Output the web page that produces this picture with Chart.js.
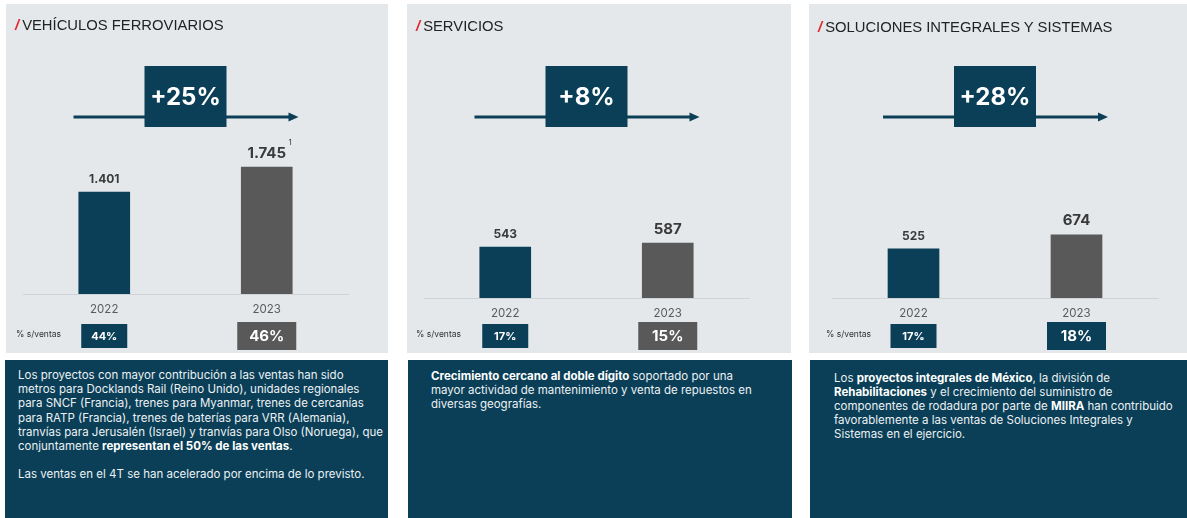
<!DOCTYPE html>
<html lang="es">
<head>
<meta charset="utf-8">
<title>Ventas por actividad 2022-2023</title>
<script src="https://cdn.jsdelivr.net/npm/chart.js@4.4.1/dist/chart.umd.min.js"></script>
<style>
  html, body { margin: 0; padding: 0; background: #fff; }
  body { width: 1187px; height: 518px; position: relative; overflow: hidden; font-family: Inter, "Noto Sans", sans-serif; }
  .panel { position: absolute; top: 4px; height: 349px; background: #e4e8eb; }
  .panel canvas { position: absolute; left: 0; top: 0; }
  .title { position: absolute; left: 9px; top: 13px; font-family: "Liberation Sans", Arial, sans-serif; font-size: 14.8px; line-height: 16px; color: #222; white-space: nowrap; }
  .title .slash { color: #e2262c; font-weight: bold; font-style: italic; margin-right: 3px; }
  .note { position: absolute; top: 360px; height: 158px; background: #0a3f57; color: #edf1f4; font-size: 11.5px; line-height: 14.2px; box-sizing: border-box; white-space: nowrap; }
  .note b { font-weight: 700; color: #fff; }
</style>
</head>
<body>

<div class="panel" id="p0" style="left:6px;width:382px"><canvas id="c0" width="382" height="349"></canvas><div class="title"><span class="slash">/</span>VEHÍCULOS FERROVIARIOS</div></div>
<div class="panel" id="p1" style="left:407px;width:384px"><canvas id="c1" width="384" height="349"></canvas><div class="title" style="top:14px"><span class="slash">/</span>SERVICIOS</div></div>
<div class="panel" id="p2" style="left:809px;width:378px"><canvas id="c2" width="378" height="349"></canvas><div class="title" style="top:15px"><span class="slash">/</span>SOLUCIONES INTEGRALES Y SISTEMAS</div></div>

<div class="note" style="left:5px;width:383px;padding:8px 0 0 13px">Los proyectos con mayor contribución a las ventas han sido<br>metros para Docklands Rail (Reino Unido), unidades regionales<br>para SNCF (Francia), trenes para Myanmar, trenes de cercanías<br>para RATP (Francia), trenes de baterías para VRR (Alemania),<br>tranvías para Jerusalén (Israel) y tranvías para Olso (Noruega), que<br>conjuntamente <b>representan el 50% de las ventas</b>.<br><br>Las ventas en el 4T se han acelerado por encima de lo previsto.</div>
<div class="note" style="left:408px;width:384px;padding:8.5px 0 0 23px"><b>Crecimiento cercano al doble dígito</b> soportado por una<br>mayor actividad de mantenimiento y venta de repuestos en<br>diversas geografías.</div>
<div class="note" style="left:810px;width:377px;padding:10.5px 0 0 24px">Los <b>proyectos integrales de México</b>, la división de<br><b>Rehabilitaciones</b> y el crecimiento del suministro de<br>componentes de rodadura por parte de <b>MIIRA</b> han contribuido<br>favorablemente a las ventas de Soluciones Integrales y<br>Sistemas en el ejercicio.</div>

<script>
// ----------------------------
// DATA
// ----------------------------
const years = ["2022", "2023"];
const ventas = [[1401, 1745], [543, 587], [525, 674]];
const valueLabels = [["1.401", "1.745"], ["543", "587"], ["525", "674"]];
const footnotes = [["", "1"], ["", ""], ["", ""]];
const growth = ["+25%", "+8%", "+28%"];
const pctVentas = [["44%", "46%"], ["17%", "15%"], ["17%", "18%"]];

// ----------------------------
// STYLE / LAYOUT
// ----------------------------
const TEAL = "#0a3f57";
const GREY = "#595959";
const barColors = [TEAL, GREY];
const pctBoxColors = [[TEAL, GREY], [TEAL, GREY], [TEAL, TEAL]];
const yMax = [3985, 3140, 3140];
const axisHeight = [59, 55, 55];
const areaPad = [[17, 40], [17, 42], [23, 29]];
const pctLabelX = [10, 9, 17];

// draws the growth arrow, value labels and % s/ventas boxes
const overlay = {
    id: "overlay",
    afterDatasetsDraw(chart, args, opts) {
        const i = opts.panel;
        const { ctx, chartArea: a } = chart;
        const meta = chart.getDatasetMeta(0);
        const cx = (a.left + a.right) / 2;

        ctx.save();
        ctx.textAlign = "center";
        ctx.textBaseline = "middle";

        // arrow + growth box
        ctx.strokeStyle = TEAL;
        ctx.lineWidth = 3;
        ctx.beginPath();
        ctx.moveTo(cx - 112, 113);
        ctx.lineTo(cx + 104, 113);
        ctx.stroke();
        ctx.fillStyle = TEAL;
        ctx.beginPath();
        ctx.moveTo(cx + 113, 113);
        ctx.lineTo(cx + 103, 108.5);
        ctx.lineTo(cx + 103, 117.5);
        ctx.closePath();
        ctx.fill();
        ctx.fillRect(cx - 41, 62, 82, 61);
        ctx.fillStyle = "#fff";
        ctx.font = "700 24px Inter";
        ctx.fillText(growth[i], cx, 93.5);

        meta.data.forEach((bar, j) => {
            const big = j === 1;
            const ly = bar.y - (big ? 14 : 12.5);
            ctx.fillStyle = "#3a3a3a";
            ctx.font = `700 ${big ? 15 : 12}px Inter`;
            ctx.fillText(valueLabels[i][j], bar.x, ly);
            if (footnotes[i][j]) {
                const w = ctx.measureText(valueLabels[i][j]).width;
                ctx.font = "400 8px Inter";
                ctx.fillText(footnotes[i][j], bar.x + w / 2 + 4, ly - 10);
            }

            const bw = big ? 59 : 46;
            const bh = big ? 28 : 24;
            ctx.fillStyle = pctBoxColors[i][j];
            ctx.fillRect(bar.x - bw / 2, 332 - bh / 2, bw, bh);
            ctx.fillStyle = "#fff";
            ctx.font = `700 ${big ? 15 : 11}px Inter`;
            ctx.fillText(pctVentas[i][j], bar.x, 332.5);
        });

        ctx.textAlign = "left";
        ctx.fillStyle = "#333";
        ctx.font = "400 8.5px Inter";
        ctx.fillText("% s/ventas", pctLabelX[i], 330);
        ctx.restore();
    }
};

// ----------------------------
// ONE BAR CHART PER PANEL
// ----------------------------
ventas.forEach((values, i) => {
    new Chart(document.getElementById("c" + i), {
        type: "bar",
        data: {
            labels: years,
            datasets: [{
                data: values,
                backgroundColor: barColors,
                barThickness: 51
            }]
        },
        options: {
            responsive: false,
            animation: false,
            layout: { padding: { left: areaPad[i][0], right: areaPad[i][1], top: 0, bottom: 0 } },
            plugins: {
                legend: { display: false },
                tooltip: { enabled: false },
                overlay: { panel: i }
            },
            scales: {
                x: {
                    grid: { display: false, drawTicks: false },
                    border: { display: true, color: "#cfd4d8", width: 1 },
                    ticks: { color: "#5a5a5a", font: { family: "Inter", size: 11.5 }, padding: 9 },
                    afterFit: s => { s.height = axisHeight[i]; }
                },
                y: { display: false, min: 0, max: yMax[i] }
            }
        },
        plugins: [overlay]
    });
});
</script>
</body>
</html>
